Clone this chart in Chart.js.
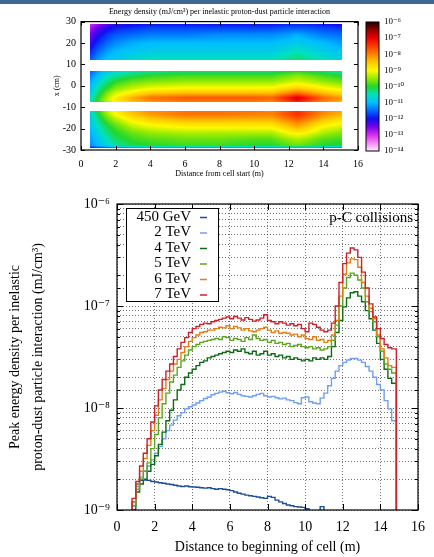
<!DOCTYPE html>
<html><head><meta charset="utf-8">
<script src="https://cdn.jsdelivr.net/npm/chart.js@4.4.1/dist/chart.umd.min.js"></script>
<style>
html,body{margin:0;padding:0;background:#fff;}
#wrap{position:relative;width:434px;height:557px;overflow:hidden;background:#fff;}
#strip{position:absolute;left:0;top:0;width:434px;height:4px;background:#3b6790;}
canvas{position:absolute;left:0;top:0;}
</style></head><body>
<div id="wrap">
<canvas id="heat" width="434" height="180"></canvas>
<canvas id="cbar" width="434" height="180"></canvas>
<canvas id="peak" width="434" height="557"></canvas>
<div id="strip"></div>
</div>
<script>
// ---------------- DATA ----------------
// Top panel: energy density map, log10(mJ/cm^3)
const heatTitle = 'Energy density (mJ/cm\u00B3) per inelastic proton-dust particle interaction';
const heatXTitle = 'Distance from cell start (m)';
const heatYTitle = 'x (cm)';
const hmX = [0.5, 1.0, 1.5, 2.0, 3.0, 4.0, 6.0, 8.0, 10.0, 11.0, 12.0, 12.5, 13.0, 14.0, 15.1];
const hmYTop = [29, 27, 24, 20, 16, 13.5, 12];
const hmTop = [
  [-13.0,-12.7,-12.4,-12.2,-12.1,-12.0,-12.0,-12.0,-12.0,-12.0,-11.9,-11.9,-11.9,-12.0,-12.1],
  [-12.8,-12.4,-12.1,-11.9,-11.8,-11.7,-11.7,-11.7,-11.7,-11.7,-11.6,-11.6,-11.6,-11.7,-11.8],
  [-12.5,-12.1,-11.8,-11.6,-11.5,-11.4,-11.4,-11.3,-11.3,-11.3,-11.2,-11.1,-11.2,-11.4,-11.5],
  [-12.2,-11.8,-11.5,-11.3,-11.1,-11.0,-11.0,-11.0,-11.0,-11.0,-10.9,-10.8,-10.9,-11.0,-11.2],
  [-11.9,-11.5,-11.2,-11.0,-10.9,-10.8,-10.8,-10.8,-10.8,-10.8,-10.6,-10.5,-10.6,-10.8,-10.9],
  [-11.7,-11.3,-11.0,-10.9,-10.7,-10.6,-10.6,-10.6,-10.6,-10.6,-10.4,-10.3,-10.4,-10.6,-10.8],
  [-11.6,-11.2,-10.9,-10.8,-10.6,-10.5,-10.5,-10.5,-10.5,-10.5,-10.3,-10.2,-10.3,-10.5,-10.7]
];
const hmYMid = [7, 5, 2, -1, -3.5, -5.5, -6.5, -7.5];
const hmMid = [
  [-11.6,-11.2,-10.9,-10.7,-10.5,-10.4,-10.3,-10.3,-10.3,-10.3,-10.1,-10.0,-10.1,-10.3,-10.5],
  [-11.4,-11.0,-10.6,-10.4,-10.2,-10.0,-9.9,-9.9,-9.9,-9.9,-9.7,-9.6,-9.7,-9.9,-10.1],
  [-11.2,-10.7,-10.3,-10.0,-9.7,-9.6,-9.5,-9.5,-9.5,-9.5,-9.3,-9.2,-9.3,-9.5,-9.7],
  [-11.0,-10.4,-10.0,-9.6,-9.3,-9.1,-9.0,-9.0,-9.0,-9.0,-8.7,-8.6,-8.7,-9.0,-9.2],
  [-10.8,-10.2,-9.6,-9.2,-8.8,-8.5,-8.4,-8.4,-8.4,-8.4,-8.0,-7.8,-8.0,-8.4,-8.7],
  [-10.7,-10.0,-9.4,-8.9,-8.3,-7.9,-7.7,-7.7,-7.7,-7.8,-7.2,-6.9,-7.2,-7.8,-8.2],
  [-10.6,-9.9,-9.3,-8.8,-8.3,-8.0,-7.8,-7.8,-7.8,-7.9,-7.3,-7.0,-7.3,-7.9,-8.2],
  [-10.6,-10.0,-9.4,-9.0,-8.5,-8.2,-8.0,-8.0,-8.0,-8.1,-7.6,-7.3,-7.6,-8.1,-8.4]
];
const hmYBot = [-12, -13.5, -16, -19, -22, -25, -28, -29];
const hmBot = [
  [-10.8,-10.0,-9.3,-8.9,-8.4,-8.1,-7.9,-7.9,-7.9,-8.0,-7.6,-7.4,-7.6,-8.0,-8.3],
  [-10.8,-10.1,-9.5,-9.0,-8.5,-8.2,-7.9,-7.9,-8.0,-8.0,-7.6,-7.4,-7.6,-8.1,-8.4],
  [-10.9,-10.3,-9.8,-9.4,-8.9,-8.6,-8.4,-8.4,-8.4,-8.4,-8.0,-7.8,-8.0,-8.5,-8.8],
  [-11.0,-10.5,-10.1,-9.8,-9.3,-9.1,-8.9,-8.9,-8.9,-8.9,-8.5,-8.3,-8.5,-9.0,-9.2],
  [-11.1,-10.7,-10.3,-10.0,-9.7,-9.5,-9.4,-9.4,-9.4,-9.4,-9.0,-8.9,-9.0,-9.4,-9.6],
  [-11.2,-10.9,-10.5,-10.2,-9.9,-9.8,-9.7,-9.7,-9.8,-9.8,-9.5,-9.4,-9.5,-9.8,-9.9],
  [-11.3,-11.0,-10.7,-10.4,-10.1,-10.0,-9.9,-9.9,-10.0,-10.0,-9.8,-9.7,-9.8,-10.0,-10.1],
  [-12.0,-11.8,-11.6,-11.5,-11.4,-11.4,-11.4,-11.4,-11.4,-11.4,-11.3,-11.3,-11.3,-11.4,-11.5]
];
// colour bar stops: [log10 value, r, g, b]
const paletteStops = [
  [-14,255,236,255],[-13.5,245,135,245],[-13,215,45,240],[-12.5,120,0,235],[-12,15,15,240],
  [-11.5,0,105,255],[-11,0,190,255],[-10.5,0,225,190],[-10,35,215,45],[-9.5,150,235,0],
  [-9,255,250,0],[-8.5,255,200,0],[-8,255,130,0],[-7.5,255,60,0],[-7,235,0,0],[-6.5,150,0,0],[-6,30,0,0]
];

// Bottom panel: peak energy density, in units of 1e-9 mJ/cm^3, bins of 0.2 m starting at 0.6 m
const peakXTitle = 'Distance to beginning of cell (m)';
const peakYTitle = ['Peak energy density per inelastic', 'proton-dust particle interaction (mJ/cm\u00B3)'];
const peakNote = 'p-C collisions';
const binStart = 0.6, binWidth = 0.2, cellEnd = 14.85;
const labels = ['450 GeV', '2 TeV', '4 TeV', '5 TeV', '6 TeV', '7 TeV'];
const e450GeV = [0.5,1.2,1.8,1.95,1.97,1.95,1.9,1.88,1.85,1.83, 1.8,1.78,1.75,1.72,1.7,1.72,1.69,1.68,1.67,1.65,
  1.64,1.65,1.62,1.6,1.62,1.6,1.58,1.55,1.5,1.46, 1.43,1.4,1.38,1.36,1.34,1.32,1.3,1.36,1.33,1.25,
  1.2,1.16,1.12,1.1,1.08,1.07,1.06,1.03,0.98,0.96, 0.97,1.08,0.9,0.8];
const e2TeV = [0.6,1.1,1.7,2.1,2.4,2.7,3.1,3.6,4.2,5.0, 6.0,6.8,7.6,8.4,9.0,9.8,10.3,10.7,11.2,11.8,
  12.4,12.8,13.5,13.9,14.3,14.6,14.1,13.8,14.2,13.6, 13.2,13.0,12.8,13.2,13.6,13.9,13.2,12.8,13.0,12.6,
  12.3,12.5,12.0,11.8,11.3,11.0,12.6,12.8,11.5,11.2, 11.0,12.5,14.0,16.5,19.5,23,26,28,29.5,30.6,
  30.6,29.5,28,25.5,23,20,17,15,11.8,9.8, 7.5];
const e4TeV = [0.7,1.0,1.5,1.8,2.0,2.4,2.8,3.4,4.4,5.8, 7.5,9.5,12,15,17,20,22,24,26,28,
  29,31,32,33,34,35,36,35,37,36, 38,35,34,36,33,34,36,33,34,32,
  33,31,32,30,31,30,29,30,29,31, 30,31,30,32,40,55,72,98,120,135,
  138,125,110,90,75,58,43,30,24,19.5, 17.5];
const e5TeV = [0.7,1.1,1.6,2.0,2.4,2.9,4.0,5.5,8.0,11, 14,18,21,25,29,33,37,40,42,44,
  45,46,47,48,47,50,49,46,48,47, 45,49,47,52,48,46,47,44,46,43,
  44,42,43,40,41,42,40,39,40,38, 39,37,38,40,46,65,100,150,190,210,
  200,180,150,110,88,70,50,36,27,24, 22];
const e6TeV = [0.7,1.2,1.8,2.4,3.2,4.3,6.0,8.5,12,15.5, 19,23,27,30,35,40,45,49,52,55,
  56,58,58,60,62,61,64,60,63,61, 58,60,57,56,58,60,62,58,55,57,
  54,55,54,52,53,50,52,48,47,50, 46,47,44,46,52,72,125,205,265,290,
  285,240,170,125,95,75,52,38,31,26, 25];
const e7TeV = [0.8,1.3,1.9,2.7,3.6,5.0,7.3,10.5,15,19, 23,27,32,38,44,49,55,60,63,66,
  68,67,70,72,74,76,78,75,79,76, 73,77,74,71,73,76,82,72,70,67,
  70,68,65,67,64,66,60,56,68,66, 62,58,56,58,68,100,170,260,330,370,
  355,300,215,150,105,78,60,48,42,39, 38];
const seriesVals = [e450GeV, e2TeV, e4TeV, e5TeV, e6TeV, e7TeV];
const seriesColors = ['#1d4f91', '#6f9fef', '#0d6b14', '#5ca51e', '#e67e10', '#c8232c'];

// ---------------- HELPERS ----------------
Chart.defaults.font.family = "'Liberation Serif', 'DejaVu Serif', serif";
Chart.defaults.color = '#000';
const SUP = {'-':'\u207B','0':'\u2070','1':'\u00B9','2':'\u00B2','3':'\u00B3','4':'\u2074','5':'\u2075','6':'\u2076','7':'\u2077','8':'\u2078','9':'\u2079'};
function decadeLabel(v) {
  const e = Math.round(Math.log10(v));
  if (Math.abs(v / Math.pow(10, e) - 1) > 1e-6) return '';
  return '10' + String(e).split('').map(c => SUP[c]).join('');
}
function colorOf(e) {
  const s = paletteStops;
  if (e <= s[0][0]) return s[0].slice(1);
  for (let k = 1; k < s.length; k++) {
    if (e <= s[k][0]) {
      const a = s[k-1], b = s[k], t = (e - a[0]) / (b[0] - a[0]);
      return [a[1]+(b[1]-a[1])*t, a[2]+(b[2]-a[2])*t, a[3]+(b[3]-a[3])*t];
    }
  }
  return s[s.length-1].slice(1);
}
function locate(arr, v) {
  const n = arr.length;
  for (let i = 0; i < n-1; i++) {
    const a = arr[i], b = arr[i+1];
    if (v >= Math.min(a,b) && v <= Math.max(a,b)) return [i, (v-a)/(b-a)];
  }
  const asc = arr[n-1] > arr[0];
  if ((asc && v < arr[0]) || (!asc && v > arr[0])) return [0, 0];
  return [n-2, 1];
}
function inwardTicks(chart, xLen, yMajor, yMinor) {
  const {ctx, chartArea: ca, scales: {x, y}} = chart;
  ctx.save(); ctx.strokeStyle = '#000'; ctx.lineWidth = 1;
  ctx.beginPath();
  x.ticks.forEach(t => { const p = Math.round(x.getPixelForValue(t.value)) + 0.5;
    ctx.moveTo(p, ca.bottom); ctx.lineTo(p, ca.bottom - xLen); ctx.moveTo(p, ca.top); ctx.lineTo(p, ca.top + xLen); });
  y.ticks.forEach(t => { const p = Math.round(y.getPixelForValue(t.value)) + 0.5;
    const L = (y.type === 'logarithmic' && decadeLabel(t.value) === '') ? yMinor : yMajor;
    ctx.moveTo(ca.left, p); ctx.lineTo(ca.left + L, p); ctx.moveTo(ca.right, p); ctx.lineTo(ca.right - L, p); });
  ctx.stroke();
  ctx.lineWidth = 1.2;
  ctx.strokeRect(ca.left, ca.top, ca.right - ca.left, ca.bottom - ca.top);
  ctx.restore();
}

// ---------------- TOP: HEAT MAP ----------------
const bands = [{rows: hmYTop, vals: hmTop}, {rows: hmYMid, vals: hmMid}, {rows: hmYBot, vals: hmBot}];
const heatPlugin = {
  id: 'heatmap',
  beforeDatasetsDraw(chart) {
    const {ctx, scales: {x, y}} = chart;
    bands.forEach(b => {
      const px0 = Math.round(x.getPixelForValue(hmX[0])), px1 = Math.round(x.getPixelForValue(hmX[hmX.length-1]));
      const py0 = Math.round(y.getPixelForValue(b.rows[0])), py1 = Math.round(y.getPixelForValue(b.rows[b.rows.length-1]));
      const w = px1 - px0, h = py1 - py0;
      const off = document.createElement('canvas'); off.width = w; off.height = h;
      const octx = off.getContext('2d');
      const img = octx.createImageData(w, h);
      for (let j = 0; j < h; j++) {
        const [ri, rt] = locate(b.rows, y.getValueForPixel(py0 + j + 0.5));
        for (let i = 0; i < w; i++) {
          const [ci, ct] = locate(hmX, x.getValueForPixel(px0 + i + 0.5));
          const v00 = b.vals[ri][ci], v01 = b.vals[ri][ci+1], v10 = b.vals[ri+1][ci], v11 = b.vals[ri+1][ci+1];
          const v = (v00*(1-ct) + v01*ct)*(1-rt) + (v10*(1-ct) + v11*ct)*rt;
          const c = colorOf(v), k = (j*w + i)*4;
          img.data[k] = c[0]; img.data[k+1] = c[1]; img.data[k+2] = c[2]; img.data[k+3] = 255;
        }
      }
      octx.putImageData(img, 0, 0);
      ctx.drawImage(off, px0, py0);
    });
  },
  afterDraw(chart) { inwardTicks(chart, 4, 4, 4); }
};
new Chart(document.getElementById('heat'), {
  type: 'scatter',
  data: {datasets: []},
  plugins: [heatPlugin],
  options: {
    responsive: false, animation: false,
    layout: {padding: {left: 50, right: 76, top: 0, bottom: 0}},
    plugins: {legend: {display: false}, tooltip: {enabled: false},
      title: {display: true, text: heatTitle, fullSize: false, font: {size: 8, weight: 'normal'}, padding: {top: 7, bottom: 5}}},
    scales: {
      x: {type: 'linear', min: 0, max: 16, ticks: {stepSize: 2, font: {size: 10}, padding: 8},
          grid: {display: false, drawTicks: false}, border: {display: false},
          title: {display: true, text: heatXTitle, font: {size: 8}, padding: {top: 0, bottom: 1}},
          afterFit: s => { s.height = 30; }},
      y: {type: 'linear', min: -30, max: 30, ticks: {stepSize: 10, font: {size: 10}, padding: 5},
          grid: {display: false, drawTicks: false}, border: {display: false},
          title: {display: true, text: heatYTitle, font: {size: 8}, padding: {top: 2, bottom: 0}},
          afterFit: s => { s.width = 31; }}
    }
  }
});

// colour bar
const cbarPlugin = {
  id: 'cbar',
  beforeDatasetsDraw(chart) {
    const {ctx, chartArea: ca, scales: {y}} = chart;
    for (let py = Math.floor(ca.top); py < Math.ceil(ca.bottom); py++) {
      const c = colorOf(Math.log10(y.getValueForPixel(py + 0.5)));
      ctx.fillStyle = 'rgb(' + c.map(Math.round).join(',') + ')';
      ctx.fillRect(ca.left, py, ca.right - ca.left, 1);
    }
    ctx.save(); ctx.strokeStyle = '#000'; ctx.lineWidth = 1;
    ctx.strokeRect(ca.left, ca.top, ca.right - ca.left, ca.bottom - ca.top);
    ctx.restore();
  }
};
new Chart(document.getElementById('cbar'), {
  type: 'scatter',
  data: {datasets: []},
  plugins: [cbarPlugin],
  options: {
    responsive: false, animation: false,
    layout: {padding: {left: 366, right: 0, top: 22, bottom: 29}},
    plugins: {legend: {display: false}, tooltip: {enabled: false}},
    scales: {
      x: {display: false, min: 0, max: 1},
      y: {type: 'logarithmic', position: 'right', min: 1e-14, max: 1e-6,
          ticks: {callback: v => decadeLabel(v), autoSkip: false, font: {size: 9}, padding: 5},
          grid: {display: false, drawTicks: false}, border: {display: false},
          afterFit: s => { s.width = 55; }}
    }
  }
});

// ---------------- BOTTOM: PEAK ENERGY DENSITY ----------------
const peakPlugin = {
  id: 'peakDeco',
  afterDraw(chart) {
    inwardTicks(chart, 6, 6, 3);
    const {ctx} = chart;
    ctx.save();
    // legend box
    ctx.fillStyle = '#fff'; ctx.fillRect(126, 208, 92, 93);
    ctx.strokeStyle = '#000'; ctx.lineWidth = 1; ctx.strokeRect(126.5, 208.5, 92, 93);
    ctx.font = "15px 'Liberation Serif'"; ctx.textAlign = 'right'; ctx.textBaseline = 'middle'; ctx.fillStyle = '#000';
    chart.data.datasets.forEach((d, i) => {
      const yy = 217 + i * 15.5;
      ctx.fillStyle = '#000'; ctx.fillText(d.label, 191, yy);
      ctx.strokeStyle = d.borderColor; ctx.lineWidth = 1.5;
      ctx.beginPath(); ctx.moveTo(200, yy + 0.5); ctx.lineTo(207, yy + 0.5); ctx.stroke();
    });
    ctx.font = "15px 'Liberation Serif'"; ctx.fillStyle = '#000'; ctx.textAlign = 'right';
    ctx.fillText(peakNote, 413, 218);
    ctx.restore();
  }
};
const peakDatasets = seriesVals.map((vals, s) => {
  const pts = vals.map((v, i) => ({x: +(binStart + binWidth * i).toFixed(2), y: v * 1e-9}));
  if (vals.length > 60) pts.push({x: cellEnd, y: 0.3e-9});
  return {label: labels[s], data: pts, borderColor: seriesColors[s], backgroundColor: seriesColors[s],
    borderWidth: 1.4, pointRadius: 0, stepped: true, fill: false, order: 5 - s};
});
new Chart(document.getElementById('peak'), {
  type: 'line',
  data: {datasets: peakDatasets},
  plugins: [peakPlugin],
  options: {
    responsive: false, animation: false, parsing: true,
    layout: {padding: {left: 0, right: 12, top: 204, bottom: 0}},
    plugins: {legend: {display: false}, tooltip: {enabled: false}},
    scales: {
      x: {type: 'linear', min: 0, max: 16, ticks: {stepSize: 2, font: {size: 14}, padding: 9},
          grid: {color: 'rgba(0,0,0,0.55)', drawTicks: false, lineWidth: 1},
          border: {display: false, dash: [1, 2]},
          title: {display: true, text: peakXTitle, font: {size: 14, lineHeight: 1.2}, padding: {top: 0, bottom: 1}},
          afterFit: s => { s.height = 47; }},
      y: {type: 'logarithmic', min: 1e-9, max: 1e-6,
          ticks: {callback: v => decadeLabel(v), autoSkip: false, font: {size: 14}, padding: 7},
          grid: {color: 'rgba(0,0,0,0.55)', drawTicks: false, lineWidth: 1},
          border: {display: false, dash: [1, 2]},
          title: {display: true, text: peakYTitle, font: {size: 14, lineHeight: 1.7}, padding: {top: 3, bottom: 0}},
          afterFit: s => { s.width = 117; }}
    }
  }
});
</script>
</body></html>
